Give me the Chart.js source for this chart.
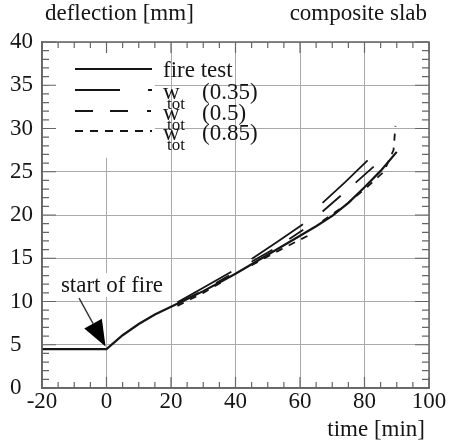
<!DOCTYPE html>
<html>
<head>
<meta charset="utf-8">
<script src="https://cdn.jsdelivr.net/npm/chart.js@4.4.1/dist/chart.umd.min.js"></script>
<style>
  html, body { margin: 0; padding: 0; background: #fff; }
  #wrap { width: 456px; height: 443px; }
</style>
</head>
<body>
<div id="wrap"><canvas id="chart" width="456" height="443"></canvas></div>
<script>
// measured deflection of the fire test
const fireTime = [-20, 0, 5, 10, 15, 20, 25, 30, 35, 40, 45, 50, 55, 60, 65, 70, 75, 80, 85, 90];
const fireDefl = [4.5, 4.5, 6.1, 7.4, 8.5, 9.4, 10.3, 11.2, 12.2, 13.2, 14.3, 15.4, 16.5, 17.6, 18.7, 19.9, 21.4, 23.2, 25.1, 27.3];

// predicted w_tot, three pieces each (null = break)
const w035Time = [22, 30, 39, null, 45, 53, 62, null, 67, 74, 82];
const w035Defl = [9.9, 11.6, 13.5, null, 14.9, 16.9, 19.2, null, 21.4, 23.8, 26.7];
const w05Time = [22, 30, 38, null, 45, 53, 61, null, 67, 75, 85];
const w05Defl = [9.7, 11.3, 13.0, null, 14.6, 16.3, 18.3, null, 20.4, 23.0, 26.3];
const w085Time = [22, 30, 37, null, 45, 54, 64, null, 67, 75, 81, 86, 89, 89.6];
const w085Defl = [9.5, 11.0, 12.5, null, 14.2, 16.0, 17.9, null, 19.3, 21.4, 23.3, 25.0, 27.5, 30.3];

const legendNames = ['fire test', '(0.35)', '(0.5)', '(0.85)'];
const xTicks = [-20, 0, 20, 40, 60, 80, 100];
const yTicks = [0, 5, 10, 15, 20, 25, 30, 35, 40];

const FONT = "'Liberation Serif', 'Times New Roman', serif";
const INK = '#151515';

function toPoints(times, values) {
    let last = 0;
    return times.map((t, i) => {
        if (t !== null) last = t;
        return { x: last, y: values[i] };
    });
}

// grid masking, frame, minor ticks, legend and notes
const decorations = {
    id: 'decorations',
    beforeDatasetsDraw(chart) {
        const ctx = chart.ctx;
        const a = chart.chartArea;
        const xs = chart.scales.x, ys = chart.scales.y;
        ctx.save();
        ctx.fillStyle = '#fff';
        // legend box
        ctx.fillRect(a.left + 7, a.top + 7, xs.getPixelForValue(15) - a.left - 7, ys.getPixelForValue(26.6) - a.top - 7);
        // label "start of fire"
        ctx.font = '23px ' + FONT;
        const w = ctx.measureText('start of fire').width;
        const cx = xs.getPixelForValue(1.7), cy = ys.getPixelForValue(11.8);
        ctx.fillRect(cx - w / 2 - 2, cy - 13, w + 4, 24);
        ctx.restore();
    },
    afterDatasetsDraw(chart) {
        const ctx = chart.ctx;
        const a = chart.chartArea;
        const xs = chart.scales.x, ys = chart.scales.y;
        ctx.save();

        // frame
        ctx.strokeStyle = '#666';
        ctx.lineWidth = 1.5;
        ctx.strokeRect(a.left, a.top, a.right - a.left, a.bottom - a.top);

        // inward ticks on all four sides
        ctx.lineWidth = 1.2;
        ctx.beginPath();
        for (let v = -20; v <= 100; v += 5) {
            const px = xs.getPixelForValue(v);
            const len = v % 20 === 0 ? 11 : 6;
            ctx.moveTo(px, a.bottom); ctx.lineTo(px, a.bottom - len);
            ctx.moveTo(px, a.top); ctx.lineTo(px, a.top + len);
        }
        for (let v = 0; v <= 40; v += 1) {
            const py = ys.getPixelForValue(v);
            const len = v % 5 === 0 ? 14 : 7;
            ctx.moveTo(a.left, py); ctx.lineTo(a.left + len, py);
            ctx.moveTo(a.right, py); ctx.lineTo(a.right - len, py);
        }
        ctx.stroke();

        // legend
        const sx0 = a.left + 33, sx1 = a.left + 110;
        const rows = [a.top + 27, a.top + 48, a.top + 69, a.top + 89];
        const dashes = [[], [45, 28, 4, 100], [18, 17, 18, 19, 4, 100], [8, 7]];
        ctx.strokeStyle = INK;
        rows.forEach((ry, i) => {
            ctx.lineWidth = i === 0 ? 2 : 1.8;
            ctx.setLineDash(dashes[i]);
            ctx.beginPath();
            ctx.moveTo(sx0, ry); ctx.lineTo(sx1, ry);
            ctx.stroke();
        });
        ctx.setLineDash([]);
        ctx.fillStyle = INK;
        ctx.textBaseline = 'alphabetic';
        ctx.textAlign = 'left';
        const tx = sx1 + 11;
        rows.forEach((ry, i) => {
            ctx.font = '23px ' + FONT;
            if (i === 0) {
                ctx.fillText(legendNames[0], tx, ry + 8);
            } else {
                ctx.fillText('w', tx, ry + 9);
                ctx.fillText(legendNames[i], tx + 39, ry + 9);
                ctx.font = '17px ' + FONT;
                ctx.fillText('tot', tx + 4, ry + 19);
            }
        });

        // arrow to start of fire
        const tail = { x: xs.getPixelForValue(-8.5), y: ys.getPixelForValue(10.4) };
        const tip = { x: xs.getPixelForValue(-0.3), y: ys.getPixelForValue(4.8) };
        const ang = Math.atan2(tip.y - tail.y, tip.x - tail.x);
        const hl = 26, hw = 10;
        const bx = tip.x - hl * Math.cos(ang), by = tip.y - hl * Math.sin(ang);
        ctx.strokeStyle = '#333';
        ctx.lineWidth = 1.4;
        ctx.beginPath();
        ctx.moveTo(tail.x, tail.y); ctx.lineTo(bx, by);
        ctx.stroke();
        ctx.fillStyle = '#000';
        ctx.beginPath();
        ctx.moveTo(tip.x, tip.y);
        ctx.lineTo(bx + hw * Math.sin(ang), by - hw * Math.cos(ang));
        ctx.lineTo(bx - hw * Math.sin(ang), by + hw * Math.cos(ang));
        ctx.closePath();
        ctx.fill();

        // start of fire label
        ctx.fillStyle = INK;
        ctx.font = '23px ' + FONT;
        ctx.textAlign = 'center';
        ctx.textBaseline = 'middle';
        ctx.fillText('start of fire', xs.getPixelForValue(1.7), ys.getPixelForValue(11.8));

        // titles
        ctx.textBaseline = 'alphabetic';
        ctx.textAlign = 'left';
        ctx.fillText('deflection [mm]', a.left + 3, 20);
        ctx.textAlign = 'right';
        ctx.fillText('composite slab', a.right - 2, 20);
        ctx.fillText('time [min]', a.right - 4, 436);
        ctx.restore();
    }
};

window.onload = function() {
    const ctx = document.getElementById('chart').getContext('2d');
    new Chart(ctx, {
        type: 'line',
        data: {
            datasets: [
                { label: 'fire test', data: toPoints(fireTime, fireDefl), borderColor: INK, borderWidth: 2.2 },
                { label: 'w_tot (0.35)', data: toPoints(w035Time, w035Defl), borderColor: INK, borderWidth: 1.8, borderDash: [62, 12, 4, 12] },
                { label: 'w_tot (0.5)', data: toPoints(w05Time, w05Defl), borderColor: INK, borderWidth: 1.8, borderDash: [24, 20] },
                { label: 'w_tot (0.85)', data: toPoints(w085Time, w085Defl), borderColor: INK, borderWidth: 1.8, borderDash: [7, 7] }
            ]
        },
        options: {
            responsive: false,
            animation: false,
            spanGaps: false,
            elements: { point: { radius: 0 }, line: { tension: 0 } },
            layout: { padding: { left: 10, right: 27, top: 42, bottom: 25 } },
            plugins: { legend: { display: false }, tooltip: { enabled: false } },
            scales: {
                x: {
                    type: 'linear',
                    min: -20, max: 100,
                    afterBuildTicks: s => { s.ticks = xTicks.map(v => ({ value: v })); },
                    afterFit: s => { s.height = 30; },
                    grid: { color: '#aaa', lineWidth: 1, drawTicks: false },
                    border: { color: '#666', width: 1.5 },
                    ticks: { color: INK, padding: 0, font: { family: FONT, size: 23 }, maxRotation: 0 }
                },
                y: {
                    type: 'linear',
                    min: 0, max: 40,
                    afterBuildTicks: s => { s.ticks = yTicks.map(v => ({ value: v })); },
                    afterFit: s => { s.width = 32; },
                    grid: { color: '#aaa', lineWidth: 1, drawTicks: false },
                    border: { color: '#666', width: 1.5 },
                    ticks: { color: INK, padding: 0, crossAlign: 'far', font: { family: FONT, size: 23 } }
                }
            }
        },
        plugins: [decorations]
    });
};
</script>
</body>
</html>
